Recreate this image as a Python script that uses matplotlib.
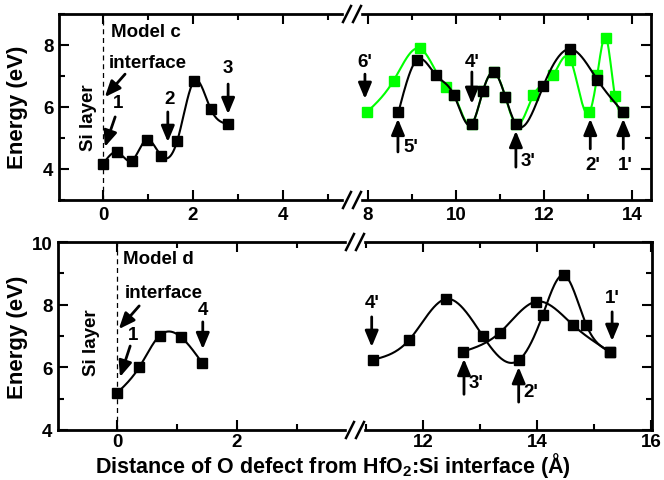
import numpy as np
import matplotlib
matplotlib.use("Agg")
import matplotlib.pyplot as plt
from matplotlib.lines import Line2D

plt.rcParams['font.family'] = ['Liberation Sans', 'DejaVu Sans']
plt.rcParams['font.weight'] = 'bold'
plt.rcParams['mathtext.fontset'] = 'custom'
plt.rcParams['mathtext.bf'] = 'Liberation Sans:bold'
plt.rcParams['mathtext.rm'] = 'Liberation Sans'

# model c, near the interface
c_x = [0.0, 0.32, 0.64, 0.97, 1.29, 1.65, 2.03, 2.39, 2.77]
c_y = [4.16, 4.54, 4.27, 4.95, 4.43, 4.91, 6.85, 5.94, 5.45]
# model c, far side (black)
cb_x = [8.69, 9.11, 9.54, 9.95, 10.36, 10.61, 10.86, 11.12, 11.36, 11.98, 12.60, 13.21, 13.80]
cb_y = [5.83, 7.52, 7.03, 6.39, 5.45, 6.51, 7.12, 6.33, 5.45, 6.67, 7.87, 6.88, 5.83]
# model c, far side (green)
cg_x = [7.97, 8.58, 9.17, 9.77, 9.95, 10.36, 10.61, 10.86, 11.12, 11.36, 11.76, 12.21, 12.60, 13.03, 13.21, 13.41, 13.61, 13.80]
cg_y = [5.83, 6.85, 7.89, 6.65, 6.39, 5.45, 6.51, 7.12, 6.33, 5.45, 6.39, 7.03, 7.52, 5.83, 7.03, 8.23, 6.36, 5.83]
# model d, near the interface
d_x = [0.0, 0.37, 0.71, 1.07, 1.42]
d_y = [5.18, 6.00, 7.01, 6.96, 6.14]
# model d, far side
da_x = [11.12, 11.76, 12.40, 13.05, 13.69, 14.10, 14.48, 14.87, 15.28]
da_y = [6.24, 6.88, 8.18, 7.00, 6.24, 7.66, 8.94, 7.34, 6.50]
db_x = [12.70, 13.35, 13.99, 14.64, 15.28]
db_y = [6.50, 7.11, 8.10, 7.34, 6.50]


def spline(x, y, n=300):
    # natural cubic spline through the points
    x = np.asarray(x, float)
    y = np.asarray(y, float)
    m = len(x)
    h = np.diff(x)
    A = np.zeros((m, m))
    r = np.zeros(m)
    A[0, 0] = A[-1, -1] = 1
    for i in range(1, m - 1):
        A[i, i - 1] = h[i - 1]
        A[i, i] = 2 * (h[i - 1] + h[i])
        A[i, i + 1] = h[i]
        r[i] = 6 * ((y[i + 1] - y[i]) / h[i] - (y[i] - y[i - 1]) / h[i - 1])
    M = np.linalg.solve(A, r)
    xs = np.linspace(x[0], x[-1], n)
    k = np.clip(np.searchsorted(x, xs) - 1, 0, m - 2)
    t0 = x[k + 1] - xs
    t1 = xs - x[k]
    hk = h[k]
    ys = (M[k] * t0 ** 3 + M[k + 1] * t1 ** 3) / (6 * hk) \
        + (y[k] / hk - M[k] * hk / 6) * t0 + (y[k + 1] / hk - M[k + 1] * hk / 6) * t1
    return xs, ys


W, H = 664, 481
fig = plt.figure(figsize=(6.64, 4.81), dpi=100)


def box(x0, x1, y0, y1):
    return [x0 / W, 1 - y1 / H, (x1 - x0) / W, (y1 - y0) / H]


ax1 = fig.add_axes(box(59, 352, 15, 201))
ax2 = fig.add_axes(box(352, 651, 15, 201))
ax3 = fig.add_axes(box(58, 355, 243, 431))
ax4 = fig.add_axes(box(355, 652, 243, 431))

ax1.set_xlim(-0.978, 5.533)
ax2.set_xlim(7.636, 14.43)
ax3.set_xlim(-0.983, 3.967)
ax4.set_xlim(10.807, 16.02)
for a in (ax1, ax2):
    a.set_ylim(3, 9)
    a.set_yticks([4, 6, 8])
    a.set_yticks([3, 5, 7, 9], minor=True)
for a in (ax3, ax4):
    a.set_ylim(4, 10)
    a.set_yticks([4, 6, 8, 10])
    a.set_yticks([5, 7, 9], minor=True)
ax1.set_xticks([0, 2, 4])
ax1.set_xticks([1, 3, 5], minor=True)
ax2.set_xticks([8, 10, 12, 14])
ax2.set_xticks([9, 11, 13], minor=True)
ax3.set_xticks([0, 2])
ax3.set_xticks([1, 3], minor=True)
ax4.set_xticks([12, 14, 16])
ax4.set_xticks([11, 13, 15], minor=True)

for a in (ax1, ax2, ax3, ax4):
    a.tick_params(which='both', direction='in', top=True, right=True, width=1.5,
                  labelsize=13.5, pad=4)
    a.tick_params(which='major', length=7)
    a.tick_params(which='minor', length=4)
    for s in a.spines.values():
        s.set_linewidth(2)
for a in (ax3, ax4):
    a.tick_params(axis='x', pad=2)
for a in (ax1, ax3):
    a.spines['right'].set_visible(False)
    a.tick_params(which='both', right=False)
for a in (ax2, ax4):
    a.spines['left'].set_visible(False)
    a.tick_params(which='both', left=False, labelleft=False)

ms = 7
# top panel
ax1.axvline(0, color='k', ls='--', lw=0.9, dashes=(4, 3))
ax1.plot(*spline(c_x, c_y), color='k', lw=1.5)
ax1.plot(c_x, c_y, 's', color='k', ms=ms)
ax2.plot(*spline(cg_x, cg_y), color='#00ff00', lw=1.5)
ax2.plot(cg_x, cg_y, 's', color='#00ff00', ms=ms)
ax2.plot(*spline(cb_x, cb_y), color='k', lw=1.5)
ax2.plot(cb_x, cb_y, 's', color='k', ms=ms)
# bottom panel
ax3.axvline(0, color='k', ls='--', lw=0.9, dashes=(4, 3))
ax3.plot(*spline(d_x, d_y), color='k', lw=1.5)
ax3.plot(d_x, d_y, 's', color='k', ms=ms)
ax4.plot(*spline(da_x, da_y), color='k', lw=1.5)
ax4.plot(da_x, da_y, 's', color='k', ms=ms)
ax4.plot(*spline(db_x, db_y), color='k', lw=1.5)
ax4.plot(db_x, db_y, 's', color='k', ms=ms)

arw = dict(arrowstyle='-|>,head_length=0.6,head_width=0.25', color='k', lw=2,
           mutation_scale=16, shrinkA=0, shrinkB=0)
fs = 13.5


def arrow(ax, tail, head):
    ax.annotate('', xy=head, xytext=tail, arrowprops=arw)


def label(ax, x, y, s, **kw):
    ax.text(x, y, s, fontsize=fs, fontweight='bold', ha='center', va='center', **kw)


ax1.text(0.18, 8.42, 'Model c', fontsize=fs, fontweight='bold', va='center')
ax1.text(0.13, 7.42, 'interface', fontsize=fs, fontweight='bold', va='center')
arrow(ax1, (0.49, 7.06), (0.04, 6.32))
label(ax1, 0.33, 6.16, '1')
arrow(ax1, (0.27, 5.68), (0.04, 4.71))
label(ax1, 1.49, 6.26, '2')
arrow(ax1, (1.44, 5.84), (1.44, 4.87))
label(ax1, 2.78, 7.29, '3')
arrow(ax1, (2.78, 6.74), (2.78, 5.77))
label(ax1, -0.33, 5.68, 'Si layer', rotation=90)

label(ax2, 7.93, 7.48, "6'")
arrow(ax2, (7.93, 7.06), (7.93, 6.26))
label(ax2, 8.97, 4.74, "5'")
arrow(ax2, (8.68, 4.55), (8.68, 5.62))
label(ax2, 10.36, 7.48, "4'")
arrow(ax2, (10.36, 7.13), (10.36, 6.1))
label(ax2, 11.64, 4.26, "3'")
arrow(ax2, (11.36, 4.06), (11.36, 5.23))
label(ax2, 13.11, 4.16, "2'")
arrow(ax2, (13.05, 4.65), (13.05, 5.62))
label(ax2, 13.84, 4.16, "1'")
arrow(ax2, (13.8, 4.65), (13.8, 5.62))

ax3.text(0.1, 9.46, 'Model d', fontsize=fs, fontweight='bold', va='center')
ax3.text(0.13, 8.4, 'interface', fontsize=fs, fontweight='bold', va='center')
arrow(ax3, (0.37, 7.96), (0.03, 7.22))
label(ax3, 0.27, 7.06, '1')
arrow(ax3, (0.22, 6.68), (0.05, 5.69))
label(ax3, 1.43, 7.86, '4')
arrow(ax3, (1.43, 7.45), (1.43, 6.58))
label(ax3, -0.42, 6.81, 'Si layer', rotation=90)

label(ax4, 11.1, 8.08, "4'")
arrow(ax4, (11.1, 7.61), (11.1, 6.65))
label(ax4, 12.93, 5.53, "3'")
arrow(ax4, (12.72, 5.14), (12.72, 6.27))
label(ax4, 13.9, 5.24, "2'")
arrow(ax4, (13.68, 4.89), (13.68, 6.01))
label(ax4, 15.32, 8.24, "1'")
arrow(ax4, (15.32, 7.77), (15.32, 6.84))

# axis titles
fig.text(18 / W, 1 - 107 / H, 'Energy (eV)', rotation=90, fontsize=16,
         fontweight='bold', ha='center', va='center')
fig.text(18 / W, 1 - 337 / H, 'Energy (eV)', rotation=90, fontsize=16,
         fontweight='bold', ha='center', va='center')
fig.text(333 / W, 1 - 466 / H, r'Distance of O defect from HfO$_\mathbf{2}$:Si interface (Å)',
         fontsize=15.5, fontweight='bold', ha='center', va='center')


# axis break marks
def brk(xc, yc):
    fig.patches.append(plt.Rectangle(((xc - 8) / W, 1 - (yc + 2) / H), 16 / W, 4 / H,
                                     transform=fig.transFigure, color='white', zorder=10))
    for dx in (-5, 5):
        fig.lines.append(Line2D([(xc + dx - 4) / W, (xc + dx + 4) / W],
                                [1 - (yc + 8) / H, 1 - (yc - 8) / H],
                                transform=fig.transFigure, color='k', lw=1.8, zorder=11))


brk(352, 15)
brk(352, 201)
brk(355, 243)
brk(355, 431)

fig.savefig('out.png', dpi=100)
